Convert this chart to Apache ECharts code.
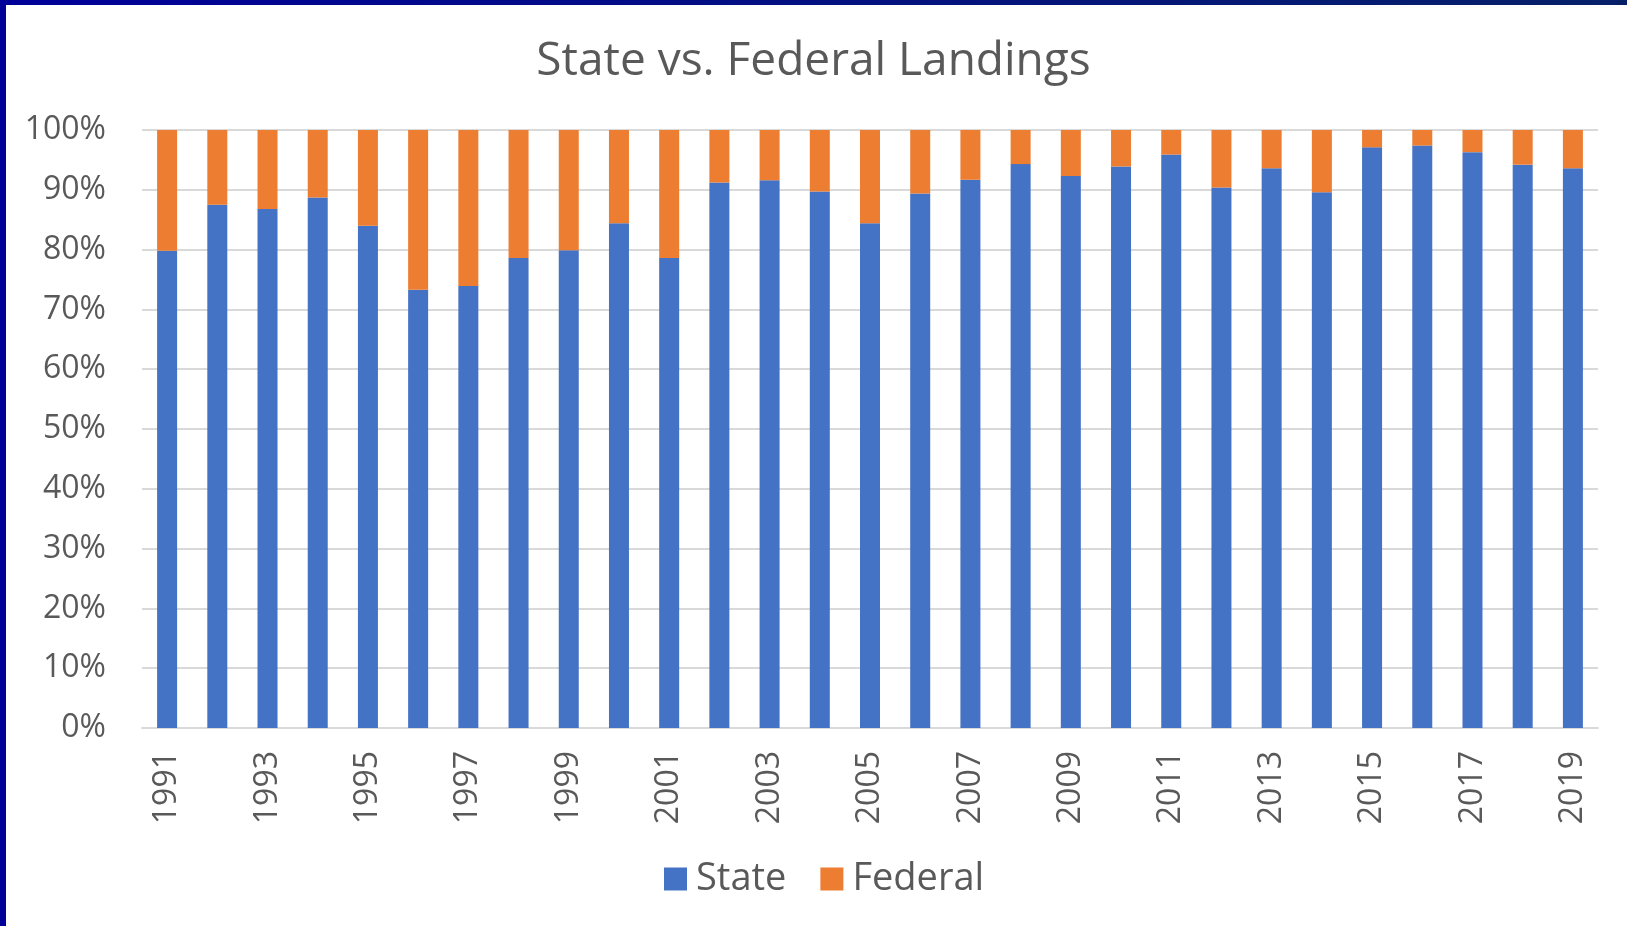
<!DOCTYPE html>
<html>
<head>
<meta charset="utf-8">
<title>State vs. Federal Landings</title>
<script src="https://cdn.jsdelivr.net/npm/echarts@6/dist/echarts.min.js"></script>
<style>
    html, body {
        margin: 0;
        padding: 0;
        background: #fff;
    }
    .main {
        position: relative;
        width: 1627px;
        height: 926px;
        overflow: hidden;
    }
    #landingBar {
        width: 1627px;
        height: 926px;
    }
    /* 幻灯片的深蓝色边框 */
    .edge-left {
        position: absolute;
        left: 0;
        top: 0;
        width: 6px;
        height: 926px;
        background: #000099;
    }
    .edge-top {
        position: absolute;
        left: 0;
        top: 0;
        width: 1627px;
        height: 5px;
        background: linear-gradient(to right, #000099, #062068);
    }
</style>
</head>
<body>
<div class="main">
    <div id="landingBar"></div>
    <div class="edge-left"></div>
    <div class="edge-top"></div>
</div>
<script>
    // 年份
    let years = ['1991', '1992', '1993', '1994', '1995', '1996', '1997', '1998', '1999', '2000',
        '2001', '2002', '2003', '2004', '2005', '2006', '2007', '2008', '2009', '2010',
        '2011', '2012', '2013', '2014', '2015', '2016', '2017', '2018', '2019'];
    // 州水域占比 (%)
    let stateShare = [79.8, 87.5, 86.8, 88.7, 84.0, 73.3, 73.9, 78.6, 79.9, 84.4,
        78.6, 91.2, 91.6, 89.7, 84.4, 89.4, 91.7, 94.3, 92.3, 93.9,
        95.9, 90.4, 93.6, 89.6, 97.1, 97.4, 96.3, 94.2, 93.6];
    // 联邦水域占比 (%)
    let federalShare = [20.2, 12.5, 13.2, 11.3, 16.0, 26.7, 26.1, 21.4, 20.1, 15.6,
        21.4, 8.8, 8.4, 10.3, 15.6, 10.6, 8.3, 5.7, 7.7, 6.1,
        4.1, 9.6, 6.4, 10.4, 2.9, 2.6, 3.7, 5.8, 6.4];
    // y轴刻度
    let yTicks = [0, 10, 20, 30, 40, 50, 60, 70, 80, 90, 100];

    let page = {
        landingBar: null,

        init() {
            this.initLandingBar();
            this.initEvent();
        },

        /**
         * 初始化百分比堆叠柱形图
         */
        initLandingBar() {
            let $this = this;
            let ctx = document.getElementById('landingBar');
            $this.landingBar = echarts.init(ctx);
            let textColor = '#595959';
            let font = "'Open Sans', 'Noto Sans', sans-serif";

            let option = {
                animation: false,
                textStyle: {
                    fontFamily: font
                },
                title: {
                    text: 'State vs. Federal Landings',
                    left: 'center',
                    top: 34,
                    textStyle: {
                        color: textColor,
                        fontSize: 46,
                        fontWeight: 'normal',
                        fontFamily: font
                    }
                },
                legend: {
                    left: 664,
                    top: 860,
                    padding: 0,
                    itemWidth: 23,
                    itemHeight: 23,
                    itemGap: 34,
                    icon: 'rect',
                    textStyle: {
                        color: textColor,
                        fontSize: 38,
                        padding: [0, 0, 0, 4],
                        fontFamily: font
                    },
                    data: ['State', 'Federal']
                },
                grid: {
                    left: 142,
                    right: 29,
                    top: 130,
                    bottom: 198
                },
                xAxis: {
                    type: 'category',
                    data: years,
                    axisLine: {
                        lineStyle: {
                            color: '#d9d9d9',
                            width: 2
                        }
                    },
                    axisTick: {
                        show: false
                    },
                    axisLabel: {
                        interval: 1,
                        rotate: 90,
                        margin: 23,
                        color: textColor,
                        fontSize: 32,
                        fontFamily: font
                    }
                },
                yAxis: {
                    type: 'value',
                    min: yTicks[0],
                    max: yTicks[yTicks.length - 1],
                    interval: yTicks[1] - yTicks[0],
                    axisLine: {
                        show: false
                    },
                    axisTick: {
                        show: false
                    },
                    splitLine: {
                        lineStyle: {
                            color: '#d9d9d9',
                            width: 2
                        }
                    },
                    axisLabel: {
                        margin: 36,
                        color: textColor,
                        fontSize: 32,
                        fontFamily: font,
                        formatter: '{value}%'
                    }
                },
                series: [
                    {
                        name: 'State',
                        type: 'bar',
                        stack: 'total',
                        barWidth: 20,
                        data: stateShare,
                        itemStyle: {
                            color: '#4472c4'
                        }
                    },
                    {
                        name: 'Federal',
                        type: 'bar',
                        stack: 'total',
                        barWidth: 20,
                        data: federalShare,
                        itemStyle: {
                            color: '#ed7d31'
                        }
                    }
                ]
            };
            $this.landingBar.setOption(option);
        },

        initEvent() {
            let $this = this;
            window.onresize = function () {
                $this.landingBar && $this.landingBar.resize();
            }
        }
    };

    page.init();
</script>
</body>
</html>
